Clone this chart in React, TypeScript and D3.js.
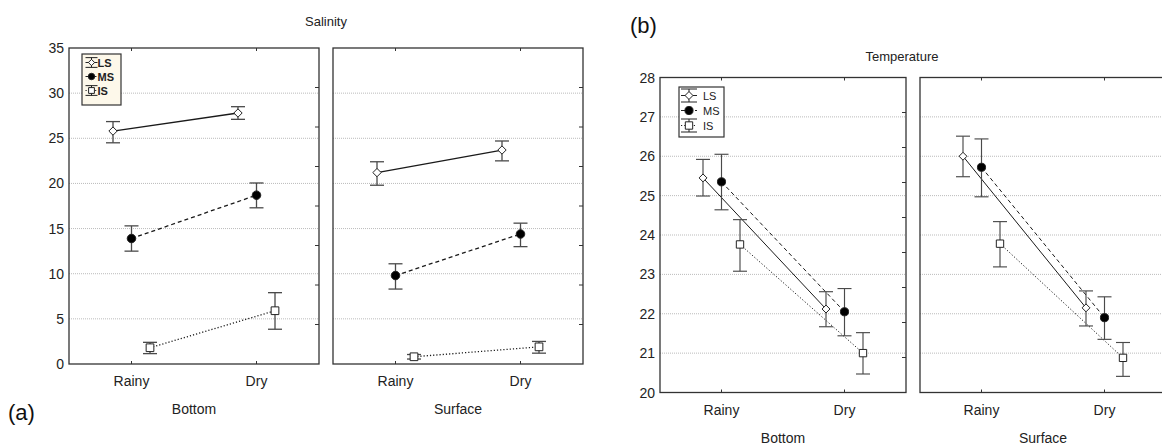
import { useEffect, useRef } from "react";
import * as d3 from "d3";

// categories
const seasons = ["Rainy", "Dry"];
const depths = ["Bottom", "Surface"];
const groups = ["LS", "MS", "IS"];

// axis ticks
const salinityTicks = [0, 5, 10, 15, 20, 25, 30, 35];
const temperatureTicks = [20, 21, 22, 23, 24, 25, 26, 27, 28];

// salinity, rows = LS, MS, IS ; columns = Rainy, Dry
const salBottomMean = [[25.8, 27.8], [13.9, 18.7], [1.8, 5.9]];
const salBottomLow = [[24.5, 27.1], [12.5, 17.3], [1.15, 3.85]];
const salBottomHigh = [[26.85, 28.5], [15.3, 20.05], [2.4, 7.9]];
const salSurfaceMean = [[21.2, 23.7], [9.8, 14.4], [0.8, 1.9]];
const salSurfaceLow = [[19.8, 22.5], [8.3, 13.0], [0.55, 1.2]];
const salSurfaceHigh = [[22.4, 24.7], [11.1, 15.6], [1.05, 2.5]];

// temperature
const tempBottomMean = [[25.45, 22.12], [25.35, 22.05], [23.76, 21.0]];
const tempBottomLow = [[24.99, 21.67], [24.64, 21.44], [23.08, 20.47]];
const tempBottomHigh = [[25.92, 22.56], [26.05, 22.64], [24.39, 21.52]];
const tempSurfaceMean = [[26.0, 22.15], [25.72, 21.9], [23.78, 20.88]];
const tempSurfaceLow = [[25.48, 21.69], [24.97, 21.35], [23.19, 20.41]];
const tempSurfaceHigh = [[26.51, 22.58], [26.44, 22.43], [24.34, 21.27]];

const FONT = "Liberation Sans, Arial, sans-serif";
const dashes: Record<string, string | null> = { LS: null, MS: "4,3", IS: "1.2,2" };

type Panel = { mean: number[][]; low: number[][]; high: number[][] };
type ChartSpec = {
  title: string;
  titleX: number;
  titleY: number;
  tag: string;
  tagX: number;
  tagY: number;
  left: number;
  panelW: number;
  gap: number;
  top: number;
  bottom: number;
  ticks: number[];
  rightTicks: number;
  panels: Panel[];
  legend: { x: number; y: number; w: number; h: number; rowH: number; bg: string; bold: boolean; scale: number };
  markerScale: number;
  lineW: number;
  barW: number;
};

const charts: ChartSpec[] = [
  {
    title: "Salinity", titleX: 326, titleY: 26, tag: "(a)", tagX: 8, tagY: 420,
    left: 69, panelW: 250, gap: 14, top: 48, bottom: 364,
    ticks: salinityTicks, rightTicks: 8,
    panels: [
      { mean: salBottomMean, low: salBottomLow, high: salBottomHigh },
      { mean: salSurfaceMean, low: salSurfaceLow, high: salSurfaceHigh },
    ],
    legend: { x: 82, y: 54, w: 39, h: 51, rowH: 14, bg: "#fdf8ea", bold: true, scale: 0.75 },
    markerScale: 1.05, lineW: 1.3, barW: 1.3,
  },
  {
    title: "Temperature", titleX: 902, titleY: 61, tag: "(b)", tagX: 630, tagY: 33,
    left: 660, panelW: 246, gap: 14, top: 77.5, bottom: 392.5,
    ticks: temperatureTicks, rightTicks: 9,
    panels: [
      { mean: tempBottomMean, low: tempBottomLow, high: tempBottomHigh },
      { mean: tempSurfaceMean, low: tempSurfaceLow, high: tempSurfaceHigh },
    ],
    legend: { x: 679, y: 87, w: 45, h: 50, rowH: 15, bg: "#ffffff", bold: false, scale: 1 },
    markerScale: 1, lineW: 1, barW: 1.15,
  },
];

const markerPath = (g: string, k: number) => {
  if (g === "LS") return d3.symbol(d3.symbolDiamond2, 40 * k * k)()!;
  if (g === "MS") return d3.symbol(d3.symbolCircle, 52 * k * k)()!;
  return d3.symbol(d3.symbolSquare, 54 * k * k)()!;
};

function drawChart(root: d3.Selection<SVGGElement, unknown, null, undefined>, c: ChartSpec) {
  const g = root.append("g");
  const y = d3.scaleLinear().domain(d3.extent(c.ticks) as [number, number]).range([c.bottom, c.top]);
  const dodge = d3.scalePoint<string>().domain(groups).range([-18.5, 18.5]);

  g.append("text")
    .attr("x", c.titleX)
    .attr("y", c.titleY)
    .attr("text-anchor", "middle")
    .attr("font-size", 13)
    .attr("font-family", FONT)
    .attr("fill", "#222")
    .text(c.title);

  g.append("text")
    .attr("x", c.tagX)
    .attr("y", c.tagY)
    .attr("font-size", 22)
    .attr("font-family", FONT)
    .attr("fill", "#111")
    .text(c.tag);

  // y tick labels
  g.selectAll(".ylab")
    .data(c.ticks)
    .join("text")
    .attr("x", c.left - 5)
    .attr("y", (d) => y(d) + 5)
    .attr("text-anchor", "end")
    .attr("font-size", 14)
    .attr("font-family", FONT)
    .attr("fill", "#222")
    .text((d) => d);

  const rightTickVals = d3.range(1, c.rightTicks).map((i) => c.top + ((c.bottom - c.top) * i) / c.rightTicks);

  c.panels.forEach((p, pi) => {
    const x0 = c.left + pi * (c.panelW + c.gap);
    const x = d3.scalePoint<string>().domain(seasons).range([x0, x0 + c.panelW]).padding(0.5);
    const pg = g.append("g");

    // grid
    pg.selectAll(".grid")
      .data(c.ticks.slice(1, -1))
      .join("line")
      .attr("x1", x0)
      .attr("x2", x0 + c.panelW)
      .attr("y1", (d) => y(d))
      .attr("y2", (d) => y(d))
      .attr("stroke", "#bbb")
      .attr("stroke-width", 1)
      .attr("stroke-dasharray", "1,1");

    // right inner ticks
    pg.selectAll(".rt")
      .data(rightTickVals)
      .join("line")
      .attr("x1", x0 + c.panelW - 4)
      .attr("x2", x0 + c.panelW)
      .attr("y1", (d) => d)
      .attr("y2", (d) => d)
      .attr("stroke", "#333");

    // category ticks top and bottom
    seasons.forEach((s) => {
      pg.append("line").attr("x1", x(s)!).attr("x2", x(s)!).attr("y1", c.top).attr("y2", c.top + 3).attr("stroke", "#333");
      pg.append("line").attr("x1", x(s)!).attr("x2", x(s)!).attr("y1", c.bottom).attr("y2", c.bottom - 3).attr("stroke", "#333");
      pg.append("text")
        .attr("x", x(s)!)
        .attr("y", c.bottom + 22)
        .attr("text-anchor", "middle")
        .attr("font-size", 14)
        .attr("font-family", FONT)
        .attr("fill", "#222")
        .text(s);
    });

    pg.append("text")
      .attr("x", x0 + c.panelW / 2)
      .attr("y", c.bottom + 50)
      .attr("text-anchor", "middle")
      .attr("font-size", 14)
      .attr("font-family", FONT)
      .attr("fill", "#222")
      .text(depths[pi]);

    // lines
    groups.forEach((grp, gi) => {
      const line = d3
        .line<number>()
        .x((_, i) => x(seasons[i])! + dodge(grp)!)
        .y((d) => y(d));
      pg.append("path")
        .attr("d", line(p.mean[gi])!)
        .attr("fill", "none")
        .attr("stroke", "#1a1a1a")
        .attr("stroke-width", c.lineW)
        .attr("stroke-dasharray", dashes[grp]);
    });

    // error bars
    groups.forEach((grp, gi) => {
      seasons.forEach((s, si) => {
        const cx = x(s)! + dodge(grp)!;
        const lo = y(p.low[gi][si]);
        const hi = y(p.high[gi][si]);
        const eb = pg.append("g").attr("stroke", "#4a4a4a").attr("stroke-width", c.barW);
        eb.append("line").attr("x1", cx).attr("x2", cx).attr("y1", lo).attr("y2", hi);
        eb.append("line").attr("x1", cx - 7).attr("x2", cx + 7).attr("y1", lo).attr("y2", lo);
        eb.append("line").attr("x1", cx - 7).attr("x2", cx + 7).attr("y1", hi).attr("y2", hi);
      });
    });

    // markers
    groups.forEach((grp, gi) => {
      seasons.forEach((s, si) => {
        const cx = x(s)! + dodge(grp)!;
        pg.append("path")
          .attr("d", markerPath(grp, c.markerScale))
          .attr("transform", `translate(${cx},${y(p.mean[gi][si])})`)
          .attr("fill", grp === "MS" ? "#000" : "#fff")
          .attr("stroke", "#222")
          .attr("stroke-width", 1);
      });
    });

    // frame
    pg.append("rect")
      .attr("x", x0)
      .attr("y", c.top)
      .attr("width", c.panelW)
      .attr("height", c.bottom - c.top)
      .attr("fill", "none")
      .attr("stroke", "#333")
      .attr("stroke-width", 1.3);
  });

  // legend
  const L = c.legend;
  const lg = g.append("g");
  lg.append("rect")
    .attr("x", L.x)
    .attr("y", L.y)
    .attr("width", L.w)
    .attr("height", L.h)
    .attr("fill", L.bg)
    .attr("stroke", "#333")
    .attr("stroke-width", 1.2);
  groups.forEach((grp, gi) => {
    const cy = L.y + 8.5 + gi * L.rowH;
    const ix = L.x + 10 * L.scale + (L.scale < 1 ? 2 : 0);
    const hw = 8 * L.scale;
    const hh = 6.5 * L.scale;
    const ic = lg.append("g").attr("stroke", "#222").attr("stroke-width", 1);
    if (grp !== "MS") {
      ic.append("line").attr("x1", ix - hw).attr("x2", ix + hw).attr("y1", cy - hh).attr("y2", cy - hh);
      ic.append("line").attr("x1", ix - hw).attr("x2", ix + hw).attr("y1", cy + hh).attr("y2", cy + hh);
      ic.append("line").attr("x1", ix).attr("x2", ix).attr("y1", cy - hh).attr("y2", cy + hh);
    }
    ic.append("line")
      .attr("x1", ix - hw)
      .attr("x2", ix + hw)
      .attr("y1", cy)
      .attr("y2", cy)
      .attr("stroke-dasharray", dashes[grp]);
    lg.append("path")
      .attr("d", markerPath(grp, c.markerScale * L.scale))
      .attr("transform", `translate(${ix},${cy})`)
      .attr("fill", grp === "MS" ? "#000" : "#fff")
      .attr("stroke", "#222");
    lg.append("text")
      .attr("x", ix + hw + (L.scale < 1 ? 0 : 6))
      .attr("y", cy + 4)
      .attr("font-size", 11)
      .attr("font-weight", L.bold ? "bold" : "normal")
      .attr("font-family", FONT)
      .attr("fill", "#222")
      .text(grp);
  });
}

export default function App() {
  const ref = useRef<SVGSVGElement | null>(null);

  useEffect(() => {
    if (!ref.current) return;
    const svg = d3.select(ref.current);
    svg.selectAll("*").remove();
    const root = svg.append("g");
    charts.forEach((c) => drawChart(root, c));
  }, []);

  return (
    <svg
      ref={ref}
      width={1162}
      height={444}
      style={{ position: "absolute", left: 0, top: 0, background: "#fff" }}
    />
  );
}
